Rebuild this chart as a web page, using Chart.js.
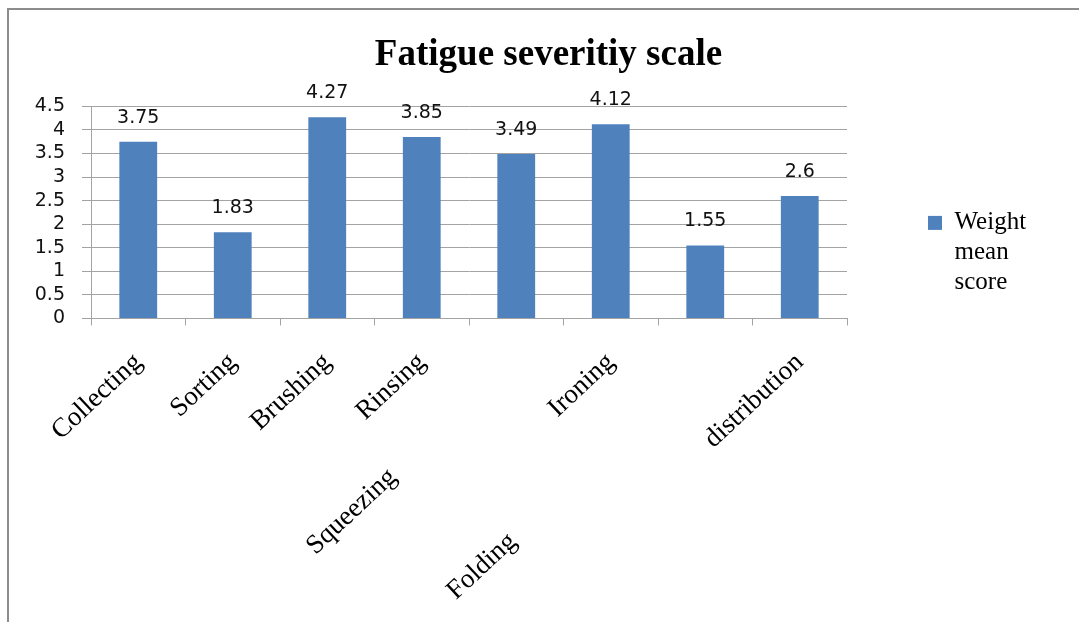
<!DOCTYPE html>
<html>
<head>
<meta charset="utf-8">
<script src="https://cdn.jsdelivr.net/npm/chart.js@4/dist/chart.umd.min.js"></script>
<style>
  body { margin: 0; background: #fff; overflow: hidden; height: 622px; }
  #marco { position: absolute; left: 7px; top: 8px; width: 1100px; height: 640px; border-left: 2px solid #8c8c8c; border-top: 2px solid #8c8c8c; }
  #grafico { position: absolute; left: 0; top: 0; }
</style>
</head>
<body>
<div id="marco"></div>
<canvas id="grafico" width="1079" height="700"></canvas>
<script>
var tareas = ['Collecting', 'Sorting', 'Brushing', 'Rinsing', 'Squeezing', 'Ironing', 'Folding', 'distribution'];
var puntajes = [3.75, 1.83, 4.27, 3.85, 3.49, 4.12, 1.55, 2.6];
var serie = ['Weight', 'mean', 'score'];
var titulo = 'Fatigue severitiy scale';

// some labels sit further down the slope in the original (trailing spaces push them)
var sangria = [0, 0, 0, 0, 25, 0, 39, 0];
var etiquetas = tareas.map(function (t, i) { return t + ' '.repeat(sangria[i]); });

var gris = '#a3a3a3';

var valores_barras = {
    id: 'valores_barras',
    afterDatasetsDraw: function (chart) {
        var ctx = chart.ctx;
        var meta = chart.getDatasetMeta(0);
        ctx.save();
        ctx.font = '19px "DejaVu Sans"';
        ctx.fillStyle = '#111';
        ctx.textAlign = 'center';
        ctx.textBaseline = 'alphabetic';
        meta.data.forEach(function (barra, i) {
            ctx.fillText(String(puntajes[i]), barra.x, barra.y - 19);
        });
        ctx.restore();
    }
};

var ctx_grafico = document.getElementById('grafico').getContext('2d');
var chart_fatiga = new Chart(ctx_grafico, {
    type: 'bar',
    data: {
        labels: etiquetas,
        datasets: [{
            label: serie,
            data: puntajes,
            backgroundColor: '#4F81BD',
            borderWidth: 0,
            barPercentage: 0.4,
            categoryPercentage: 1
        }]
    },
    options: {
        responsive: false,
        animation: false,
        layout: { padding: { left: 34, right: 16, top: 0, bottom: 72 } },
        plugins: {
            title: {
                display: true,
                text: titulo,
                color: '#000',
                font: { family: 'Liberation Serif', size: 37, weight: 'bold' },
                padding: { top: 33, bottom: 29 }
            },
            legend: {
                position: 'right',
                align: 'start',
                title: { display: true, text: '', padding: { top: 115, bottom: 0 } },
                labels: {
                    boxWidth: 14,
                    boxHeight: 14,
                    padding: 81,
                    color: '#000',
                    font: { family: 'Liberation Serif', size: 25 }
                }
            },
            tooltip: { enabled: false }
        },
        scales: {
            x: {
                border: { color: gris },
                grid: { display: true, drawOnChartArea: false, offset: true, color: gris, tickLength: 7 },
                ticks: {
                    autoSkip: false,
                    minRotation: 43,
                    maxRotation: 43,
                    padding: 21,
                    color: '#000',
                    font: { family: 'Liberation Serif', size: 27 }
                },
                afterFit: function (escala) {
                    escala.paddingLeft = 0;
                    escala.paddingRight = 232;
                }
            },
            y: {
                min: 0,
                max: 4.5,
                border: { color: gris },
                grid: { color: gris, tickLength: 9 },
                ticks: {
                    autoSkip: false,
                    stepSize: 0.5,
                    padding: 17,
                    color: '#111',
                    font: { family: 'DejaVu Sans', size: 19 },
                    callback: function (v) { return String(v); }
                },
                afterFit: function (escala) { escala.width = 57; }
            }
        }
    },
    plugins: [valores_barras]
});
</script>
</body>
</html>
